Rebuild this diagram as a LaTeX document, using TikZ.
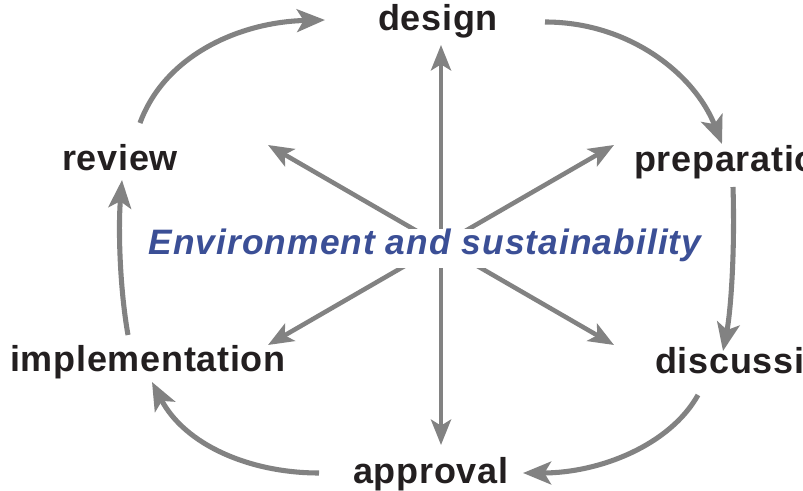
\documentclass[tikz,border=0pt]{standalone}
\usepackage{fontspec}
\setmainfont{Liberation Sans}
\newfontfamily\labelfont{Liberation Sans}[LetterSpace=2]
\newfontfamily\centerfont{Liberation Sans}[LetterSpace=3]
\usetikzlibrary{arrows.meta}
\definecolor{arrowgray}{RGB}{130,130,130}
\definecolor{labelblack}{RGB}{35,31,32}
\definecolor{envblue}{RGB}{59,79,150}
\tikzset{
  stagelabel/.style={anchor=base west, inner sep=0pt, text=labelblack,
    font=\labelfont\bfseries\fontsize{27}{32}\selectfont},
  centerlabel/.style={anchor=base, inner xsep=4pt, inner ysep=0pt, fill=white,
    text height=19.5pt, text depth=9.75pt, text=envblue,
    font=\centerfont\bfseries\itshape\fontsize{26.5}{32}\selectfont},
  flow/.style={draw=arrowgray, line width=3.8pt,
    -{Stealth[length=21pt,width=17pt,inset=5pt]}},
  ray/.style={draw=arrowgray, line width=3.4pt,
    -{Stealth[length=19pt,width=15pt,inset=4.5pt]}}
}
\begin{document}
\begin{tikzpicture}[x=0.75pt,y=-0.75pt]
\clip (0,0) rectangle (803,491);
\useasboundingbox (0,0) rectangle (803,491);
\fill[white] (0,0) rectangle (803,491);

% star rays
\coordinate (c) at (441,245);
\coordinate (tU) at (441,45);
\coordinate (tUR) at (614,145);
\coordinate (tUL) at (268,145);
\coordinate (tLL) at (268,345);
\coordinate (tLR) at (614,345);
\coordinate (tD) at (441,445);
\foreach \t in {tU,tUR,tUL,tLL,tLR,tD}{
  \draw[ray] (c) -- (\t);
}
\node[centerlabel] (env) at (425,255) {Environment and sustainability};

% stage labels
\node[stagelabel] (design) at (378,31) {design};
\node[stagelabel] (prep) at (634,172) {preparation};
\node[stagelabel] (review) at (62,171) {review};
\node[stagelabel] (impl) at (10,372) {implementation};
\node[stagelabel] (disc) at (655,374) {discussion};
\node[stagelabel] (appr) at (353,483) {approval};

% cycle arrow ends
\coordinate (r2dA) at (140,123);
\coordinate (r2dB) at (325,20);
\coordinate (d2pA) at (545,22);
\coordinate (d2pB) at (722,144);
\coordinate (p2dA) at (733,187);
\coordinate (p2dB) at (723,351);
\coordinate (d2aA) at (698,395);
\coordinate (d2aB) at (523,473);
\coordinate (a2iA) at (319,473);
\coordinate (a2iB) at (152,382);
\coordinate (i2rA) at (128,335);
\coordinate (i2rB) at (122,180);

\draw[flow] (r2dA) .. controls (165,55) and (240,22) .. (r2dB);
\draw[flow] (d2pA) .. controls (630,22) and (695,75) .. (d2pB);
\draw[flow] (p2dA) .. controls (735,250) and (731,310) .. (p2dB);
\draw[flow] (d2aA) .. controls (670,445) and (600,473) .. (d2aB);
\draw[flow] (a2iA) .. controls (250,473) and (185,445) .. (a2iB);
\draw[flow] (i2rA) .. controls (120,290) and (118,230) .. (i2rB);
\end{tikzpicture}
\end{document}
